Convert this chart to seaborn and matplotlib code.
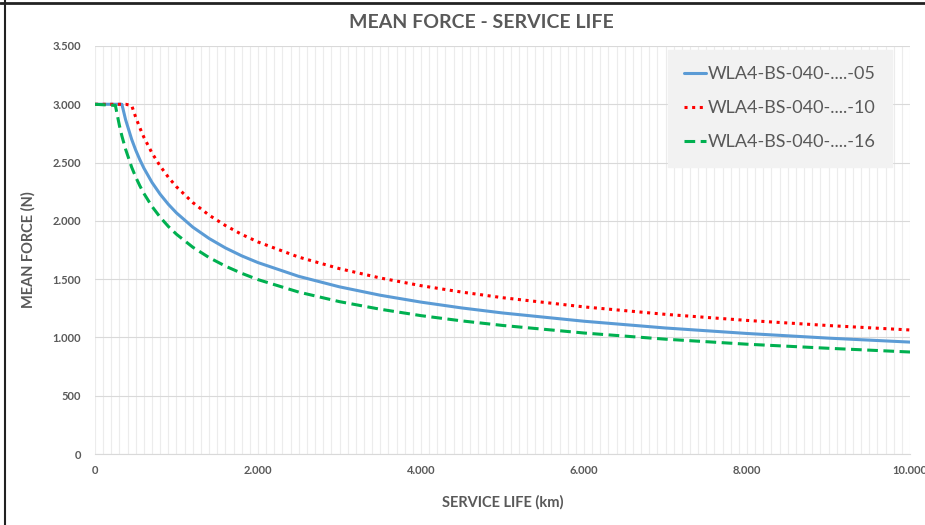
import matplotlib
matplotlib.use('Agg')
import pandas as pd
import seaborn as sns
import matplotlib.pyplot as plt
from matplotlib.ticker import FuncFormatter, MultipleLocator
from matplotlib.lines import Line2D

# Values (km, N)
service_km = [0, 250, 300, 330, 375, 450, 500, 550, 600, 700, 800, 900, 1000,
              1200, 1400, 1600, 1800, 2000, 2500, 3000, 3500, 4000, 4500, 5000,
              6000, 7000, 8000, 9000, 10000]
force_05 = [3000, 3000, 3000, 3000, 2869, 2699, 2606, 2525, 2452, 2329, 2228, 2142, 2068,
            1946, 1849, 1768, 1700, 1642, 1524, 1434, 1362, 1303, 1253, 1210,
            1139, 1081, 1034, 994, 960]
force_10 = [3000, 3000, 3000, 3000, 3000, 2990, 2888, 2798, 2717, 2581, 2470, 2374, 2292,
            2157, 2049, 1960, 1884, 1819, 1689, 1590, 1510, 1444, 1389, 1341,
            1262, 1198, 1146, 1102, 1064]
force_16 = [3000, 2990, 2816, 2728, 2615, 2460, 2375, 2301, 2235, 2123, 2031, 1952, 1885,
            1774, 1685, 1612, 1550, 1496, 1389, 1307, 1242, 1187, 1142, 1103,
            1038, 985, 942, 907, 875]
series_names = ['WLA4-BS-040-....-05', 'WLA4-BS-040-....-10', 'WLA4-BS-040-....-16']

df = pd.DataFrame({'km': service_km, series_names[0]: force_05,
                   series_names[1]: force_10, series_names[2]: force_16})

sns.set_style('white')
plt.rcParams['font.family'] = ['Lato', 'DejaVu Sans']
grey = '#595959'

fig = plt.figure(figsize=(9.25, 5.25), dpi=100)
ax = fig.add_axes([0.1027, 0.1352, 0.8811, 0.7772])

colors = ['#5b9bd5', '#ff0000', '#00b050']
styles = ['-', (0, (1, 1.5)), (0, (3.5, 1.8))]
for name, c, ls in zip(series_names, colors, styles):
    sns.lineplot(data=df, x='km', y=name, ax=ax, color=c, linestyle=ls, linewidth=2.2, label=name)

ax.set_xlim(0, 10000)
ax.set_ylim(0, 3500)
ax.xaxis.set_major_locator(MultipleLocator(2000))
ax.xaxis.set_minor_locator(MultipleLocator(100))
ax.yaxis.set_major_locator(MultipleLocator(500))
fmt = FuncFormatter(lambda v, p: f'{int(v):,}'.replace(',', '.'))
ax.xaxis.set_major_formatter(fmt)
ax.yaxis.set_major_formatter(fmt)

ax.grid(which='minor', axis='x', color='#ececec', linewidth=0.8)
ax.grid(which='major', axis='x', color='#ececec', linewidth=0.8)
ax.grid(which='major', axis='y', color='#d9d9d9', linewidth=0.8)
ax.set_axisbelow(True)
for s in ['top', 'right', 'left']:
    ax.spines[s].set_visible(False)
ax.spines['bottom'].set_color('#d9d9d9')
ax.tick_params(which='both', length=0)
ax.tick_params(axis='x', pad=8)
ax.tick_params(axis='y', pad=10)
for lab in ax.get_xticklabels() + ax.get_yticklabels():
    lab.set_fontsize(8)
    lab.set_fontweight('bold')
    lab.set_color(grey)
    lab.set_clip_on(False)

ax.set_xlabel('SERVICE LIFE (km)', fontsize=10.5, fontweight='bold', color=grey, labelpad=14)
ax.set_ylabel('MEAN FORCE (N)', fontsize=10.5, fontweight='bold', color=grey, labelpad=12)
fig.text(0.52, 0.958, 'MEAN FORCE - SERVICE LIFE', ha='center', va='center',
         fontsize=14, fontweight='bold', color=grey)

leg = ax.legend(loc='upper right', bbox_to_anchor=(0.978, 0.99), frameon=True,
                fontsize=13, handlelength=1.2, handletextpad=0.1, labelspacing=1.0,
                borderpad=0.9, fancybox=False, borderaxespad=0)
leg.get_frame().set_facecolor('#f2f2f2')
leg.get_frame().set_edgecolor('#f2f2f2')
leg.get_frame().set_alpha(1)
for t in leg.get_texts():
    t.set_color(grey)

fig.add_artist(Line2D([0, 1], [0.995, 0.995], transform=fig.transFigure, color='#222222', linewidth=2))
fig.add_artist(Line2D([0.0055, 0.0055], [0, 1], transform=fig.transFigure, color='#222222', linewidth=1.5))

fig.savefig('out.png', dpi=100)
